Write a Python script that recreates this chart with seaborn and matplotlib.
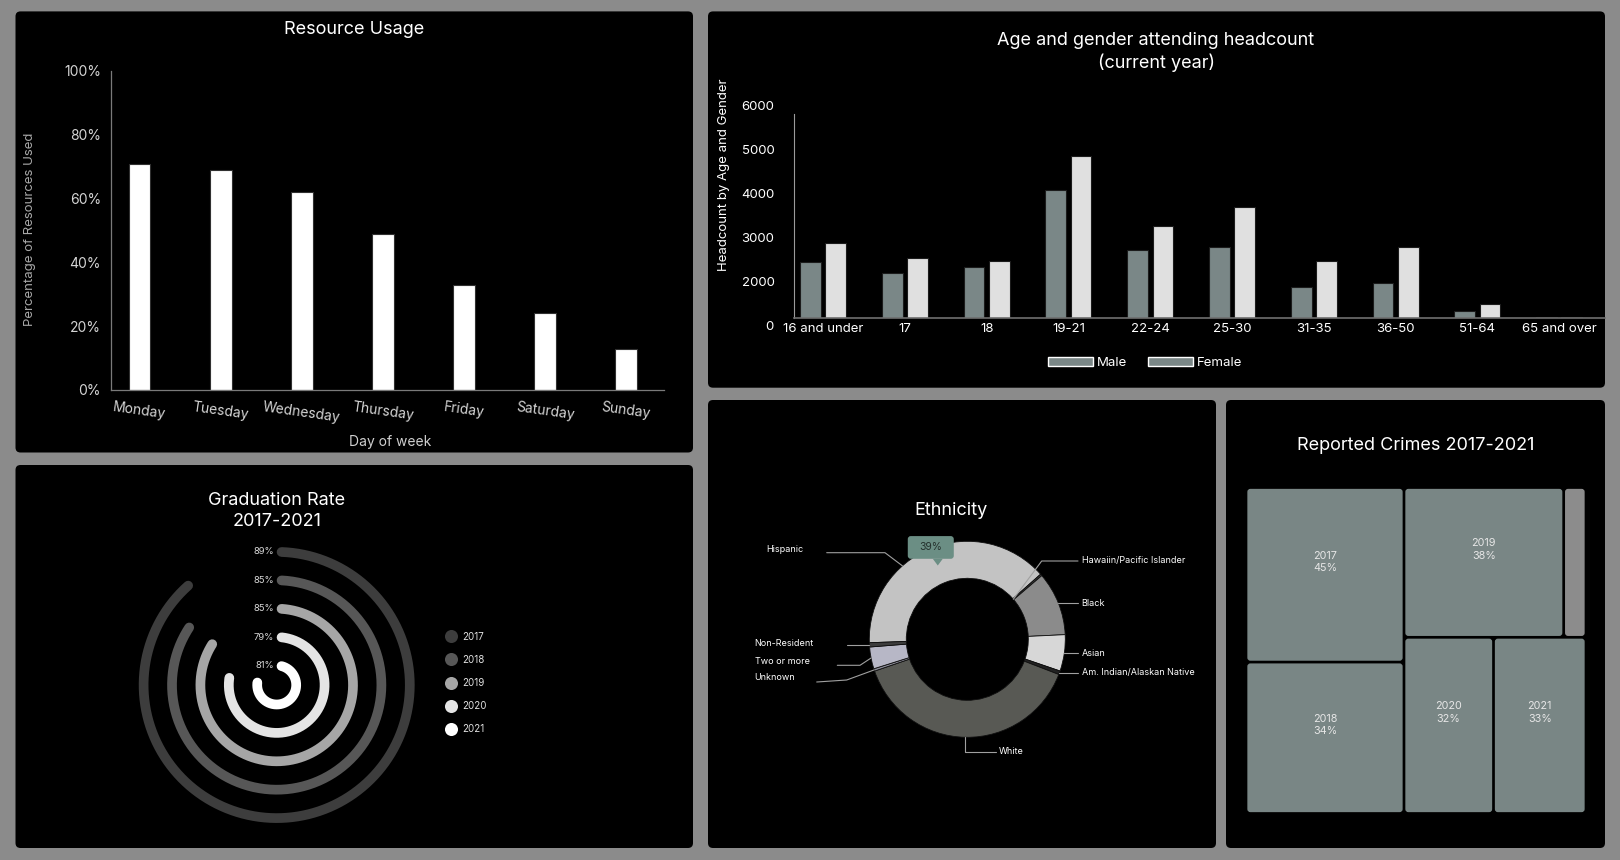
import numpy as np
import pandas as pd
import matplotlib
matplotlib.use('Agg')
import matplotlib.pyplot as plt
import seaborn as sns
from matplotlib.patches import FancyBboxPatch, Patch, Polygon
from matplotlib.lines import Line2D
from matplotlib.ticker import PercentFormatter

# ---- data ----
days = ['Monday', 'Tuesday', 'Wednesday', 'Thursday', 'Friday', 'Saturday', 'Sunday']
usage = [0.71, 0.69, 0.62, 0.49, 0.33, 0.24, 0.13]

ages = ['16 and under', '17', '18', '19-21', '22-24', '25-30', '31-35', '36-50', '51-64', '65 and over']
male = [2450, 2200, 2330, 4080, 2720, 2790, 1880, 1970, 1340, 1210]
female = [2890, 2550, 2470, 4850, 3260, 3690, 2470, 2780, 1500, 1220]

grad_years = ['2017', '2018', '2019', '2020', '2021']
grad_rate = [89, 85, 85, 79, 81]

eth_groups = ['Hispanic', 'Hawaiin/Pacific Islander', 'Black', 'Asian',
              'Am. Indian/Alaskan Native', 'White', 'Unknown', 'Two or more', 'Non-Resident']
eth_share = [39, 0.3, 10.5, 6, 0.6, 38.9, 0.4, 3.6, 0.7]

crime_years = ['2017', '2018', '2019', 'Other', '2020', '2021']
crime_size = [264, 229, 229, 32, 151, 156]
crime_pct = [45, 34, 38, None, 32, 33]

# ---- styles / layout ----
W, H = 1620, 860
sns.set_theme(style='dark')
plt.rcParams['font.family'] = ['Inter', 'DejaVu Sans']

grad_colors = ['#3d3d3d', '#575757', '#a6a6a6', '#e4e4e4', '#ffffff']
eth_colors = ['#c3c3c3', '#3a3a3a', '#8b8b8b', '#d7d7d7', '#222222',
              '#585954', '#8c8c98', '#b7b7c6', '#3c3c3c']
teal = '#7a8787'

fig = plt.figure(figsize=(W / 100, H / 100), dpi=100, facecolor='#8b8b8b')


def rect(x0, y0, x1, y1):
    return [x0 / W, 1 - y1 / H, (x1 - x0) / W, (y1 - y0) / H]


def fpt(x, y):
    return x / W, 1 - y / H


def panel(x0, y0, x1, y1):
    p = FancyBboxPatch((x0 / 100, (H - y1) / 100), (x1 - x0) / 100, (y1 - y0) / 100,
                       boxstyle='round,pad=0,rounding_size=0.05', transform=fig.dpi_scale_trans,
                       facecolor='black', edgecolor='none', zorder=-10)
    fig.add_artist(p)


def title(x, y, s, size=13):
    fig.text(*fpt(x, y), s, ha='center', va='center', color='white', fontsize=size, linespacing=1.25)


panel(15.5, 11.4, 693, 452.5)
panel(708, 11.4, 1605, 387.7)
panel(15.5, 465, 693, 848)
panel(708, 400, 1216, 848)
panel(1226, 400, 1605, 848)

# ---- Resource usage ----
ax1 = fig.add_axes(rect(110.5, 71, 663.5, 390))
ax1.set_facecolor('none')
sns.barplot(x=days, y=usage, color='white', width=0.27, edgecolor='#303030', linewidth=0.8, ax=ax1)
ax1.set_xlim(-0.358, 6.463)
ax1.set_ylim(0, 1)
ax1.set_yticks([0, 0.2, 0.4, 0.6, 0.8, 1.0])
ax1.yaxis.set_major_formatter(PercentFormatter(1.0, decimals=0))
ax1.tick_params(axis='both', length=0, colors='#d4d4d4', labelsize=10)
ax1.tick_params(axis='y', pad=7)
ax1.tick_params(axis='x', pad=7, labelrotation=-8)
for s in ['top', 'right']:
    ax1.spines[s].set_visible(False)
for s in ['left', 'bottom']:
    ax1.spines[s].set_visible(True)
    ax1.spines[s].set_color('#7a7a7a')
    ax1.spines[s].set_linewidth(0.9)
ax1.set_xlabel('Day of week', color='#cfcfcf', fontsize=10, va='center')
ax1.xaxis.set_label_coords(0.505, -0.162)
ax1.set_ylabel('Percentage of Resources Used', color='#a8a8a8', fontsize=9.5, va='center')
ax1.yaxis.set_label_coords(-0.145, 0.505)
title(354, 30, 'Resource Usage')

# ---- Age and gender ----
ax2 = fig.add_axes(rect(794, 105, 1605, 317.7))
ax2.set_facecolor('none')
df_age = pd.DataFrame({'age': ages * 2,
                       'gender': ['Male'] * len(ages) + ['Female'] * len(ages),
                       'headcount': male + female})
sns.barplot(data=df_age, x='age', y='headcount', hue='gender',
            palette={'Male': teal, 'Female': '#e0e0e0'}, saturation=1,
            width=0.62, gap=0.18, edgecolor='#1c1c1c', linewidth=0.8, legend=False, ax=ax2)
ax2.set_xlim(-0.355, 9.56)
ax2.set_ylim(1193, 6000)
ax2.set_yticks([2000, 3000, 4000, 5000, 6000])
ax2.tick_params(axis='both', length=0, colors='white', labelsize=9.5)
ax2.tick_params(axis='y', pad=14)
ax2.tick_params(axis='x', pad=4)
for s in ['top', 'right']:
    ax2.spines[s].set_visible(False)
ax2.spines['left'].set_visible(True)
ax2.spines['left'].set_color('#9a9a9a')
ax2.spines['left'].set_linewidth(0.8)
ax2.spines['left'].set_bounds(1193, 5790)
ax2.spines['bottom'].set_visible(True)
ax2.spines['bottom'].set_color('#6f6f6f')
ax2.spines['bottom'].set_linewidth(1.2)
ax2.set_xlabel('')
ax2.set_ylabel('Headcount by Age and Gender', color='white', fontsize=9.5, va='center')
ax2.yaxis.set_label_coords(-0.0863, 0.672)
fig.text(*fpt(773.5, 326.7), '0', ha='right', va='center', color='white', fontsize=9.5)
fig.legend(handles=[Patch(facecolor=teal, label='Male'), Patch(facecolor=teal, label='Female')],
           loc='center', bbox_to_anchor=fpt(1145, 363), ncol=2, frameon=False, fontsize=9.5,
           labelcolor='white', handlelength=3.4, handleheight=0.75, columnspacing=1.6,
           handletextpad=0.3)
title(1156, 52, 'Age and gender attending headcount\n(current year)')

# ---- Graduation rate (radial bars) ----
gcx, gcy, GR = 276.7, 685, 150
ax3 = fig.add_axes(rect(gcx - GR, gcy - GR, gcx + GR, gcy + GR), projection='polar')
ax3.set_theta_zero_location('N')
ax3.set_theta_direction(-1)
ax3.set_ylim(0, GR)
ax3.set_axis_off()
ring_r0, ring_step, ring_w = 19.5, 28.4, 9.7
n = len(grad_years)
for i, (yr, v, c) in enumerate(zip(grad_years, grad_rate, grad_colors)):
    r = ring_r0 + ring_step * (n - 1 - i)
    half = ring_w / 2
    theta = np.linspace(half / r, 2 * np.pi * v / 100 - half / r, 400)
    ax3.plot(theta, np.full(theta.shape, r), color=c, lw=ring_w * 0.72, solid_capstyle='round')
    ax3.annotate(f'{v}%', xy=(0, r), xytext=(-2, 0), textcoords='offset points',
                 ha='right', va='center', fontsize=6.8, color='#d8d8d8')
handles = [Line2D([], [], marker='o', ls='', markersize=9.4, markerfacecolor=c,
                  markeredgecolor='none', label=yr) for yr, c in zip(grad_years, grad_colors)]
fig.legend(handles=handles, loc='center left', bbox_to_anchor=fpt(440, 683), frameon=False,
           fontsize=7, labelcolor='#e0e0e0', borderpad=0, handlelength=1.2,
           handletextpad=0.6, labelspacing=1.35)
title(277, 511, 'Graduation Rate\n2017-2021')

# ---- Ethnicity donut ----
ecx, ecy, ER = 967.3, 639.3, 110
r_out, r_in = 98, 61
ax4 = fig.add_axes(rect(ecx - ER, ecy - ER, ecx + ER, ecy + ER))
wedges, _ = ax4.pie(eth_share, colors=eth_colors, startangle=182, counterclock=False,
                    radius=r_out / ER,
                    wedgeprops=dict(width=(r_out - r_in) / ER, edgecolor='#101010', linewidth=0.6))
ax4.set_xlim(-1, 1)
ax4.set_ylim(-1, 1)
ax4.set_aspect('equal')
ax4.axis('off')

label_layout = {
    'Hispanic': dict(text=(766, 550), via=[(826.7, 552.7), (885, 552.7)], frac=0.36),
    'Hawaiin/Pacific Islander': dict(text=(1081.7, 561), via=[(1078, 561), (1041.7, 561)], inner=True),
    'Black': dict(text=(1081.7, None), via=[(1078, None)]),
    'Asian': dict(text=(1081.7, None), via=[(1078, None)]),
    'Am. Indian/Alaskan Native': dict(text=(1081.7, None), via=[(1078, None)]),
    'White': dict(text=(999, 751.7), via=[(996, 751.7), (None, 751.7)]),
    'Unknown': dict(text=(754.7, 677.3), via=[(816.7, 682), (846.7, 680)]),
    'Two or more': dict(text=(754.7, 661.3), via=[(837.3, 665.3), (860, 665.3)]),
    'Non-Resident': dict(text=(754.7, 643), via=[(846.7, None)]),
}
for name, w in zip(eth_groups, wedges):
    lay = label_layout[name]
    frac = lay.get('frac', 0.5)
    ang = np.deg2rad(w.theta2 - frac * (w.theta2 - w.theta1))
    rad = r_in if lay.get('inner') else r_out
    ax_, ay_ = ecx + rad * np.cos(ang), ecy - rad * np.sin(ang)
    pts = [(px if px is not None else ax_, py if py is not None else ay_) for px, py in lay['via']]
    pts.append((ax_, ay_))
    xs = [p[0] / W for p in pts]
    ys = [1 - p[1] / H for p in pts]
    fig.add_artist(Line2D(xs, ys, transform=fig.transFigure, color='#a0a0a0', lw=0.8))
    tx, ty = lay['text']
    ty = ay_ if ty is None else ty
    fig.text(*fpt(tx, ty), name, ha='left', va='center', color='white', fontsize=6.5)

# tooltip on the largest slice
hw = wedges[0]
mid = np.deg2rad((hw.theta1 + hw.theta2) / 2)
tip_x = ecx + (r_in + r_out) / 2 * np.cos(mid)
tip_y = ecy - (r_in + r_out) / 2 * np.sin(mid)
bw, bh, th = 46, 22.7, 6.7
bx0, by1 = tip_x - 7 - bw / 2, tip_y - th
tip_box = FancyBboxPatch((bx0 / 100, (H - by1) / 100), bw / 100, bh / 100,
                         boxstyle='round,pad=0,rounding_size=0.03', transform=fig.dpi_scale_trans,
                         facecolor='#6b8e84', edgecolor='none', zorder=5)
fig.add_artist(tip_box)
fig.add_artist(Polygon([((tip_x - 5) / 100, (H - by1) / 100), ((tip_x + 5) / 100, (H - by1) / 100),
                        (tip_x / 100, (H - tip_y) / 100)], closed=True,
                       transform=fig.dpi_scale_trans, facecolor='#6b8e84', edgecolor='none', zorder=5))
fig.text(*fpt(bx0 + bw / 2, by1 - bh / 2), f'{eth_share[0]:.0f}%', ha='center', va='center',
         color='#25312d', fontsize=7.5, zorder=6)
title(950.7, 510.7, 'Ethnicity')

# ---- Reported crimes treemap ----
TW, TH = 340, 326
ax5 = fig.add_axes(rect(1246, 487.5, 1246 + TW, 487.5 + TH))
ax5.set_xlim(0, TW)
ax5.set_ylim(TH, 0)
ax5.axis('off')
size_of = dict(zip(crime_years, crime_size))
tree = [['2017', '2018'], [['2019', 'Other'], ['2020', '2021']]]


def total(node):
    return size_of[node] if isinstance(node, str) else sum(total(c) for c in node)


def slice_layout(node, x, y, w, h, horiz, out):
    if isinstance(node, str):
        out[node] = (x, y, w, h)
        return
    t = total(node)
    for c in node:
        f = total(c) / t
        if horiz:
            slice_layout(c, x, y, w * f, h, not horiz, out)
            x += w * f
        else:
            slice_layout(c, x, y, w, h * f, not horiz, out)
            y += h * f


boxes = {}
slice_layout(tree, 0, 0, TW, TH, True, boxes)
g = 1.35
for yr, pct in zip(crime_years, crime_pct):
    x, y, w, h = boxes[yr]
    color = '#8c8c8c' if pct is None else '#798685'
    ax5.add_patch(FancyBboxPatch((x + g, y + g), w - 2 * g, h - 2 * g,
                                 boxstyle='round,pad=0,rounding_size=3',
                                 facecolor=color, edgecolor='none'))
    if pct is not None:
        ax5.text(x + w / 2, y + h / 2 - 13, f'{yr}\n{pct}%', ha='center', va='center',
                 color='#e6e6e6', fontsize=7.8, linespacing=1.3)
title(1415.7, 445, 'Reported Crimes 2017-2021')

fig.savefig('out.png', dpi=100, facecolor=fig.get_facecolor())
